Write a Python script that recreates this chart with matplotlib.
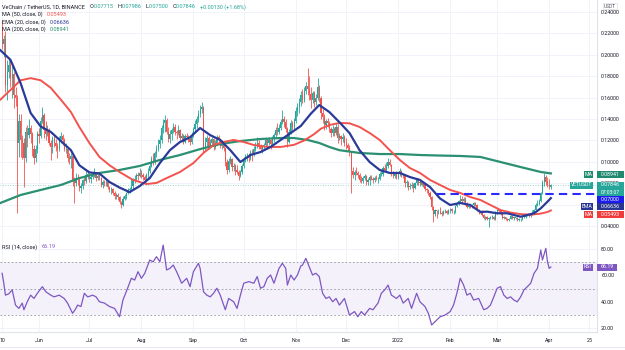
import numpy as np
import matplotlib.pyplot as plt
from matplotlib.patches import Rectangle

plt.rcParams['font.family'] = ['Roboto', 'DejaVu Sans']

# VET/USDT daily candles, 10 May 2021 .. 2 Apr 2022
first_open = 0.222
may_c = [0.210, 0.214, 0.172, 0.184, 0.190, 0.178, 0.182, 0.162, 0.160, 0.118, 0.138, 0.120, 0.118, 0.104, 0.128, 0.125, 0.132, 0.126, 0.112, 0.104, 0.112, 0.126]
may_h = [0.232, 0.218, 0.222, 0.195, 0.198, 0.195, 0.192, 0.184, 0.170, 0.162, 0.145, 0.145, 0.125, 0.122, 0.133, 0.134, 0.140, 0.134, 0.128, 0.116, 0.116, 0.129]
may_l = [0.205, 0.198, 0.165, 0.158, 0.178, 0.170, 0.160, 0.150, 0.152, 0.053, 0.105, 0.105, 0.103, 0.077, 0.100, 0.114, 0.122, 0.118, 0.106, 0.098, 0.100, 0.108]
jun_c = [0.124, 0.138, 0.144, 0.130, 0.126, 0.130, 0.118, 0.114, 0.122, 0.118, 0.115, 0.112, 0.121, 0.124, 0.120, 0.112, 0.112, 0.104, 0.103, 0.106, 0.082, 0.080, 0.085, 0.083, 0.076, 0.078, 0.083, 0.082, 0.088, 0.089]
jun_h = [0.132, 0.142, 0.151, 0.146, 0.138, 0.134, 0.132, 0.120, 0.124, 0.126, 0.121, 0.118, 0.124, 0.128, 0.126, 0.122, 0.118, 0.114, 0.108, 0.108, 0.106, 0.086, 0.090, 0.089, 0.086, 0.080, 0.084, 0.087, 0.092, 0.093]
jun_l = [0.118, 0.122, 0.136, 0.122, 0.120, 0.124, 0.116, 0.102, 0.108, 0.114, 0.110, 0.104, 0.110, 0.118, 0.116, 0.110, 0.108, 0.100, 0.098, 0.094, 0.078, 0.062, 0.078, 0.079, 0.073, 0.071, 0.075, 0.079, 0.080, 0.084]
jul_c = [0.084, 0.086, 0.089, 0.090, 0.085, 0.087, 0.085, 0.079, 0.081, 0.080, 0.081, 0.077, 0.074, 0.075, 0.071, 0.068, 0.069, 0.067, 0.063, 0.060, 0.066, 0.068, 0.071, 0.074, 0.075, 0.078, 0.083, 0.084, 0.088, 0.087, 0.090]
jul_h = [0.090, 0.088, 0.091, 0.094, 0.091, 0.089, 0.089, 0.086, 0.083, 0.083, 0.083, 0.082, 0.078, 0.077, 0.076, 0.073, 0.071, 0.071, 0.068, 0.064, 0.068, 0.070, 0.072, 0.076, 0.077, 0.085, 0.085, 0.088, 0.090, 0.091, 0.094]
jul_l = [0.081, 0.080, 0.084, 0.086, 0.082, 0.083, 0.083, 0.077, 0.076, 0.078, 0.078, 0.075, 0.072, 0.070, 0.069, 0.066, 0.066, 0.065, 0.061, 0.057, 0.059, 0.065, 0.066, 0.070, 0.071, 0.074, 0.075, 0.080, 0.082, 0.083, 0.086]
aug_c = [0.088, 0.086, 0.083, 0.088, 0.092, 0.096, 0.103, 0.100, 0.108, 0.112, 0.117, 0.120, 0.132, 0.136, 0.139, 0.128, 0.121, 0.126, 0.130, 0.133, 0.128, 0.127, 0.130, 0.122, 0.124, 0.119, 0.124, 0.123, 0.121, 0.119, 0.125]
aug_h = [0.093, 0.090, 0.088, 0.090, 0.094, 0.099, 0.106, 0.108, 0.110, 0.116, 0.121, 0.125, 0.134, 0.140, 0.144, 0.141, 0.133, 0.130, 0.132, 0.136, 0.135, 0.130, 0.134, 0.131, 0.127, 0.126, 0.126, 0.127, 0.125, 0.124, 0.128]
aug_l = [0.085, 0.083, 0.080, 0.081, 0.085, 0.090, 0.095, 0.097, 0.098, 0.105, 0.110, 0.113, 0.118, 0.127, 0.128, 0.126, 0.119, 0.118, 0.120, 0.127, 0.125, 0.121, 0.125, 0.120, 0.119, 0.117, 0.118, 0.121, 0.119, 0.116, 0.117]
sep_c = [0.131, 0.135, 0.140, 0.145, 0.149, 0.151, 0.114, 0.119, 0.122, 0.115, 0.118, 0.121, 0.114, 0.118, 0.123, 0.120, 0.115, 0.117, 0.113, 0.100, 0.093, 0.101, 0.103, 0.095, 0.096, 0.093, 0.091, 0.087, 0.091, 0.096]
sep_h = [0.133, 0.139, 0.143, 0.148, 0.153, 0.156, 0.152, 0.123, 0.125, 0.124, 0.121, 0.123, 0.122, 0.120, 0.125, 0.125, 0.122, 0.120, 0.118, 0.114, 0.103, 0.104, 0.106, 0.104, 0.099, 0.098, 0.097, 0.093, 0.093, 0.098]
sep_l = [0.123, 0.129, 0.132, 0.137, 0.142, 0.146, 0.108, 0.110, 0.115, 0.112, 0.113, 0.115, 0.111, 0.112, 0.116, 0.118, 0.113, 0.112, 0.110, 0.096, 0.089, 0.091, 0.098, 0.092, 0.092, 0.088, 0.089, 0.083, 0.086, 0.089]
oct_c = [0.103, 0.104, 0.106, 0.104, 0.109, 0.108, 0.112, 0.114, 0.118, 0.114, 0.112, 0.114, 0.116, 0.120, 0.118, 0.120, 0.117, 0.121, 0.125, 0.130, 0.128, 0.132, 0.137, 0.140, 0.137, 0.131, 0.119, 0.128, 0.136, 0.133, 0.138]
oct_h = [0.105, 0.107, 0.108, 0.108, 0.111, 0.112, 0.115, 0.119, 0.123, 0.120, 0.117, 0.116, 0.118, 0.122, 0.122, 0.123, 0.121, 0.124, 0.127, 0.133, 0.136, 0.135, 0.140, 0.148, 0.143, 0.140, 0.133, 0.131, 0.139, 0.138, 0.141]
oct_l = [0.094, 0.100, 0.101, 0.100, 0.102, 0.101, 0.106, 0.110, 0.113, 0.112, 0.110, 0.108, 0.111, 0.115, 0.114, 0.116, 0.112, 0.115, 0.119, 0.123, 0.125, 0.126, 0.130, 0.135, 0.133, 0.128, 0.114, 0.118, 0.126, 0.130, 0.130]
nov_c = [0.147, 0.151, 0.156, 0.162, 0.158, 0.166, 0.171, 0.168, 0.163, 0.158, 0.164, 0.156, 0.160, 0.170, 0.160, 0.146, 0.142, 0.134, 0.138, 0.136, 0.131, 0.127, 0.131, 0.127, 0.133, 0.122, 0.124, 0.121, 0.123, 0.118]
nov_h = [0.151, 0.155, 0.160, 0.166, 0.168, 0.170, 0.174, 0.187, 0.180, 0.170, 0.166, 0.166, 0.163, 0.178, 0.172, 0.161, 0.149, 0.145, 0.140, 0.141, 0.138, 0.133, 0.134, 0.133, 0.136, 0.135, 0.127, 0.125, 0.127, 0.125]
nov_l = [0.136, 0.143, 0.146, 0.152, 0.155, 0.156, 0.163, 0.162, 0.158, 0.150, 0.155, 0.151, 0.153, 0.158, 0.156, 0.140, 0.136, 0.130, 0.131, 0.133, 0.128, 0.123, 0.124, 0.124, 0.125, 0.118, 0.120, 0.116, 0.119, 0.115]
dec_c = [0.116, 0.113, 0.109, 0.092, 0.088, 0.091, 0.090, 0.088, 0.083, 0.082, 0.085, 0.087, 0.081, 0.083, 0.086, 0.084, 0.083, 0.085, 0.084, 0.084, 0.089, 0.089, 0.094, 0.093, 0.096, 0.100, 0.097, 0.089, 0.087, 0.089, 0.086]
dec_h = [0.122, 0.118, 0.116, 0.110, 0.095, 0.093, 0.095, 0.092, 0.090, 0.087, 0.087, 0.089, 0.088, 0.085, 0.088, 0.088, 0.086, 0.087, 0.088, 0.086, 0.091, 0.093, 0.096, 0.098, 0.100, 0.104, 0.103, 0.098, 0.092, 0.091, 0.092]
dec_l = [0.112, 0.110, 0.106, 0.071, 0.085, 0.083, 0.088, 0.085, 0.081, 0.080, 0.080, 0.083, 0.079, 0.079, 0.079, 0.083, 0.080, 0.081, 0.083, 0.080, 0.083, 0.087, 0.087, 0.091, 0.092, 0.094, 0.096, 0.087, 0.085, 0.085, 0.084]
jan_c = [0.089, 0.092, 0.088, 0.087, 0.080, 0.081, 0.077, 0.078, 0.079, 0.076, 0.080, 0.083, 0.080, 0.081, 0.079, 0.080, 0.075, 0.074, 0.071, 0.067, 0.058, 0.052, 0.055, 0.054, 0.054, 0.053, 0.052, 0.054, 0.054, 0.053, 0.055]
jan_h = [0.090, 0.094, 0.093, 0.090, 0.089, 0.083, 0.082, 0.080, 0.081, 0.080, 0.081, 0.085, 0.085, 0.083, 0.082, 0.081, 0.080, 0.076, 0.075, 0.073, 0.068, 0.059, 0.056, 0.055, 0.056, 0.058, 0.054, 0.055, 0.056, 0.055, 0.056]
jan_l = [0.084, 0.087, 0.086, 0.085, 0.077, 0.077, 0.074, 0.075, 0.076, 0.072, 0.075, 0.079, 0.079, 0.078, 0.078, 0.077, 0.073, 0.071, 0.069, 0.066, 0.055, 0.044, 0.050, 0.048, 0.052, 0.052, 0.050, 0.051, 0.053, 0.052, 0.052]
feb_c = [0.056, 0.054, 0.054, 0.059, 0.061, 0.064, 0.066, 0.064, 0.066, 0.061, 0.058, 0.059, 0.058, 0.060, 0.062, 0.060, 0.055, 0.054, 0.054, 0.051, 0.048, 0.049, 0.047, 0.048, 0.049, 0.049, 0.047, 0.053]
feb_h = [0.057, 0.057, 0.055, 0.060, 0.063, 0.065, 0.069, 0.068, 0.067, 0.067, 0.063, 0.060, 0.060, 0.061, 0.063, 0.063, 0.061, 0.056, 0.055, 0.055, 0.052, 0.050, 0.050, 0.049, 0.050, 0.051, 0.050, 0.054]
feb_l = [0.053, 0.053, 0.052, 0.053, 0.058, 0.060, 0.063, 0.061, 0.063, 0.060, 0.057, 0.057, 0.057, 0.057, 0.059, 0.059, 0.054, 0.052, 0.053, 0.050, 0.047, 0.046, 0.046, 0.0395, 0.047, 0.047, 0.046, 0.046]
mar_c = [0.055, 0.054, 0.052, 0.048, 0.049, 0.047, 0.046, 0.047, 0.050, 0.048, 0.048, 0.048, 0.046, 0.047, 0.047, 0.049, 0.049, 0.050, 0.051, 0.050, 0.051, 0.053, 0.055, 0.060, 0.061, 0.064, 0.071, 0.081, 0.086, 0.081, 0.079]
mar_h = [0.056, 0.056, 0.055, 0.052, 0.050, 0.049, 0.048, 0.048, 0.051, 0.050, 0.049, 0.049, 0.049, 0.048, 0.048, 0.050, 0.050, 0.051, 0.052, 0.052, 0.052, 0.055, 0.056, 0.062, 0.065, 0.066, 0.072, 0.083, 0.090, 0.088, 0.086]
mar_l = [0.052, 0.053, 0.051, 0.047, 0.047, 0.046, 0.045, 0.045, 0.047, 0.047, 0.046, 0.047, 0.045, 0.045, 0.045, 0.046, 0.048, 0.048, 0.050, 0.049, 0.049, 0.051, 0.052, 0.055, 0.059, 0.060, 0.063, 0.070, 0.078, 0.079, 0.077]
apr_c = [0.07715, 0.07846]
apr_h = [0.084, 0.07986]
apr_l = [0.075, 0.07500]

# indicator lines (day index from 10 May 2021, value)
ma50_day = [-1, 11, 17, 23, 29, 35, 41, 46, 52, 58, 64, 70, 78, 86, 92, 98, 106, 114, 120, 126,
            132, 138, 144, 150, 158, 166, 174, 180, 186, 190, 195, 201, 207, 213, 219, 225, 231, 237, 243, 249,
            255, 261, 267, 273, 279, 285, 291, 297, 303, 309, 315, 321, 325, 327]
ma50_val = [0.158, 0.176, 0.178, 0.176, 0.169, 0.158, 0.1465, 0.1326, 0.1177, 0.1047, 0.097, 0.0907, 0.0833, 0.0795, 0.0805, 0.085, 0.0907, 0.099, 0.1084, 0.1158,
            0.1186, 0.1205, 0.1186, 0.1158, 0.114, 0.114, 0.116, 0.120, 0.126, 0.131, 0.1344, 0.1363, 0.136, 0.1326, 0.127, 0.1205, 0.111, 0.1019, 0.0944, 0.0898,
            0.0833, 0.0786, 0.074, 0.0712, 0.0674, 0.0647, 0.060, 0.0553, 0.053, 0.0515, 0.051, 0.052, 0.0535, 0.0549]
ema_day = [-1, 5, 11, 17, 23, 29, 35, 41, 46, 52, 58, 64, 70, 76, 82, 88, 94, 100, 106, 112,
           118, 124, 130, 136, 142, 148, 154, 160, 166, 172, 178, 184, 189, 195, 201, 207, 213, 219, 225, 231,
           237, 243, 249, 255, 261, 267, 273, 279, 285, 289, 295, 301, 309, 317, 321, 325, 327]
ema_val = [0.204, 0.195, 0.1735, 0.1456, 0.133, 0.128, 0.1195, 0.111, 0.097, 0.0903, 0.0893, 0.0814, 0.0762, 0.072, 0.0776, 0.085, 0.099, 0.111, 0.1186, 0.123,
           0.1316, 0.125, 0.1205, 0.111, 0.100, 0.1065, 0.1093, 0.114, 0.1205, 0.127, 0.1335, 0.145, 0.153, 0.1465, 0.137, 0.127, 0.111, 0.100, 0.0926, 0.0898,
           0.0898, 0.086, 0.0833, 0.0767, 0.066, 0.060, 0.0619, 0.060, 0.0535, 0.0538, 0.0523, 0.0523, 0.0491, 0.0523, 0.0569, 0.0631, 0.0664]
ma200_day = [-1, 11, 23, 35, 46, 58, 70, 82, 94, 106, 118, 130, 142, 154, 166, 174, 182, 189, 195, 201,
             213, 225, 237, 249, 261, 273, 285, 297, 309, 321, 327]
ma200_val = [0.0619, 0.0693, 0.074, 0.0786, 0.085, 0.0898, 0.0926, 0.0963, 0.1019, 0.1065, 0.112, 0.1167, 0.1195, 0.1214, 0.1223, 0.1223, 0.1205, 0.1177, 0.114, 0.111,
             0.1084, 0.1074, 0.1074, 0.1065, 0.106, 0.1056, 0.1047, 0.100, 0.0953, 0.0907, 0.0894]

rsi_day = [0, 1, 2, 4, 6, 8, 10, 12, 13, 15, 17, 19, 21, 24, 26, 29, 31, 34, 37, 39,
           42, 44, 45, 47, 49, 51, 54, 56, 58, 61, 64, 67, 70, 72, 74, 77, 79, 81, 83, 85,
           88, 90, 92, 94, 96, 98, 100, 102, 104, 107, 110, 112, 114, 117, 118, 120, 122, 124, 126, 128,
           130, 133, 135, 138, 140, 142, 144, 147, 150, 152, 154, 156, 158, 160, 162, 165, 167, 169, 170, 172,
           174, 176, 178, 179, 181, 183, 185, 187, 189, 191, 193, 195, 197, 199, 201, 204, 207, 210, 212, 214,
           216, 219, 221, 224, 226, 228, 230, 232, 235, 237, 239, 242, 244, 247, 249, 252, 254, 256, 258, 261,
           264, 267, 269, 271, 273, 275, 277, 279, 281, 284, 287, 289, 291, 293, 295, 297, 299, 301, 303, 305,
           307, 309, 311, 313, 315, 317, 319, 321, 322, 324, 325, 326, 327]
rsi_val = [61.5, 54, 45, 46, 49, 37.5, 35, 39, 34, 40, 45, 42.5, 46.4, 51.4, 47.6, 45, 43.7, 45, 42.5, 39,
           31.3, 35, 37.5, 36.4, 46.4, 43.7, 45, 43.7, 40, 39, 36.4, 35, 28.7, 41.3, 47.6, 57.7, 56.4, 62.7, 57.7, 61.5,
           71.5, 70.2, 74, 70.2, 82.8, 64, 65.2, 67.7, 62.7, 54, 57.7, 51.4, 62.7, 69, 65.2, 47.6, 45, 43.7, 46.4, 50.2,
           45, 34, 42.5, 40, 35, 45, 54, 55.2, 54, 59, 50.2, 51.4, 57.7, 60.2, 54, 65.2, 69, 65.2, 52.6, 60.2,
           56.4, 60.2, 67, 67.7, 72.8, 66.5, 60.2, 61.5, 59, 46.4, 42.5, 43.7, 40, 42.5, 37.5, 42.5, 30, 32.6, 28.7, 32.6,
           30, 35, 34, 39, 46.4, 49, 52.6, 45, 42.5, 45, 39, 42.5, 35, 46.4, 40, 36.4, 31.3, 22.5, 25, 28.7,
           30, 32.6, 37.5, 46.4, 57.7, 52.6, 45, 46.4, 41.3, 42.5, 34, 35, 37.5, 43.7, 50.2, 51.4, 45, 42.5, 43.7, 41.3,
           40, 43.7, 49, 51.4, 54, 61.5, 65.2, 79, 71.5, 80.3, 70.2, 65.2, 66.19]

support_level = 0.07
support_start = 259
last_price = 0.07846

tick_days = [0, 22, 52, 83, 114, 144, 175, 205, 236, 267, 295, 326, 350]
tick_labels = ['10', 'Jun', 'Jul', 'Aug', 'Sep', 'Oct', 'Nov', 'Dec', '2022', 'Feb', 'Mar', 'Apr', '25']
price_ticks = [0.04, 0.06, 0.08, 0.10, 0.12, 0.14, 0.16, 0.18, 0.20, 0.22, 0.24]
rsi_ticks = [20, 40, 60, 80]

close = np.array(may_c + jun_c + jul_c + aug_c + sep_c + oct_c + nov_c + dec_c + jan_c + feb_c + mar_c + apr_c)
high = np.array(may_h + jun_h + jul_h + aug_h + sep_h + oct_h + nov_h + dec_h + jan_h + feb_h + mar_h + apr_h)
low = np.array(may_l + jun_l + jul_l + aug_l + sep_l + oct_l + nov_l + dec_l + jan_l + feb_l + mar_l + apr_l)
opens = np.r_[first_open, close[:-1]]
high = np.maximum(high, np.maximum(opens, close))
low = np.minimum(low, np.minimum(opens, close))
days = np.arange(len(close))

UP, DOWN = '#26a69a', '#ef5350'
TXT = '#131722'
GRID = '#f0f3fa'
W, H = 625, 350

def fy(py):
    return 1 - py / H

fig = plt.figure(figsize=(6.25, 3.5), dpi=100)
ax = fig.add_axes([0, fy(240), 597 / W, 240 / H])
rax = fig.add_axes([0, fy(332), 597 / W, 92 / H], sharex=ax)

# candles
col = np.where(close >= opens, UP, DOWN)
ax.vlines(days, low, high, colors=col, linewidth=0.6, zorder=2)
body = np.maximum(np.abs(close - opens), 0.0004)
ax.bar(days, body, bottom=np.minimum(opens, close), width=0.7, color=col, linewidth=0, zorder=2)

ax.plot(ma200_day, ma200_val, color='#2b8f72', lw=1.6, zorder=3)
ax.plot(ma50_day, ma50_val, color='#f4524d', lw=1.4, zorder=3)
ax.plot(ema_day, ema_val, color='#2a3a98', lw=1.6, zorder=4)
ax.hlines(support_level, support_start, 356, colors='#2a2aff', lw=1.5, linestyles=(0, (4, 2.5)), zorder=4)
ax.axhline(last_price, color=UP, lw=0.6, ls=(0, (1, 2)), alpha=0.6, zorder=1)

ax.set_xlim(-1.25, 354.5)
ax.set_ylim(0.02744, 0.2507)
ax.set_yticks(price_ticks)
ax.set_yticklabels(['%.5f' % v for v in price_ticks])
ax.yaxis.tick_right()
ax.set_xticks(tick_days)
ax.grid(True, color=GRID, lw=0.7)
ax.tick_params(axis='x', labelbottom=False, length=0)
ax.tick_params(axis='y', length=0, labelsize=3.8, labelcolor=TXT, pad=3)
for s in ['top', 'left']:
    ax.spines[s].set_visible(False)
ax.spines['right'].set_color('#e0e3eb')
ax.spines['bottom'].set_color('#e0e3eb')

# RSI pane
rax.axhspan(30, 70, color='#7e57c2', alpha=0.08, lw=0)
for lv in (70, 50, 30):
    rax.axhline(lv, color='#9598a1', lw=0.6, ls=(0, (2, 2.5)))
rax.plot(rsi_day, rsi_val, color='#7e57c2', lw=0.9, zorder=3)
rax.set_ylim(17.2, 86.6)
rax.set_yticks(rsi_ticks)
rax.set_yticklabels(['%.2f' % v for v in rsi_ticks])
rax.yaxis.tick_right()
rax.set_xticks(tick_days)
rax.set_xticklabels(tick_labels)
rax.grid(True, color=GRID, lw=0.7)
rax.tick_params(axis='both', length=0, labelsize=3.8, labelcolor=TXT)
rax.tick_params(axis='x', pad=4)
rax.tick_params(axis='y', pad=3)
for s in ['top', 'left']:
    rax.spines[s].set_visible(False)
rax.spines['right'].set_color('#e0e3eb')
rax.spines['bottom'].set_color('#e0e3eb')

fig.add_artist(plt.Line2D([0, 1], [fy(347), fy(347)], color='#e0e3eb', lw=0.6))

# legend text runs
renderer = fig.canvas.get_renderer()

def run(x, y, parts, size=4.0):
    for s, c, gap in parts:
        t = fig.text(x / W, fy(y), s, color=c, fontsize=size, va='center', ha='left', zorder=6)
        x += t.get_window_extent(renderer).width + gap

run(2, 7, [('VeChain / TetherUS, 1D, BINANCE', TXT, 5), ('O', TXT, 0), ('0.07715', UP, 4),
           ('H', TXT, 0), ('0.07986', UP, 4), ('L', TXT, 0), ('0.07500', UP, 4),
           ('C', TXT, 0), ('0.07846', UP, 4), ('+0.00130 (+1.68%)', UP, 0)])
run(2, 14.5, [('MA (50, close, 0)', TXT, 4), ('0.05493', '#f4524d', 0)])
run(2, 22, [('EMA (20, close, 0)', TXT, 4), ('0.06636', '#2a3a98', 0)])
run(2, 29.5, [('MA (200, close, 0)', TXT, 4), ('0.08941', '#2b8f72', 0)])
run(2, 247, [('RSI (14, close)', TXT, 4), ('66.19', '#7e57c2', 0)])

# price scale tags
def box(x0, x1, y0, y1, color):
    fig.add_artist(Rectangle((x0 / W, fy(y1)), (x1 - x0) / W, (y1 - y0) / H,
                             transform=fig.transFigure, fc=color, ec='none', zorder=5))

def tag(y, label, value, color, lab_x0, h=7, val_x1=624):
    box(597, val_x1, y - h / 2, y + h / 2, color)
    fig.text((597 + val_x1) / 2 / W, fy(y), value, color='white', fontsize=3.8,
             ha='center', va='center', zorder=6)
    if label:
        box(lab_x0, 593, y - h / 2, y + h / 2, color)
        fig.text((lab_x0 + 593) / 2 / W, fy(y), label, color='white', fontsize=3.8,
                 ha='center', va='center', zorder=6)

tag(174, 'MA', '0.08941', '#1f8a70', 584)
box(570, 593, 181.5, 188.5, UP)
fig.text(581.5 / W, fy(185), 'VETUSDT', color='white', fontsize=3.6, ha='center', va='center', zorder=6)
box(597, 624, 181.5, 196, UP)
fig.text(610.5 / W, fy(185), '0.07846', color='white', fontsize=3.8, ha='center', va='center', zorder=6)
fig.text(610.5 / W, fy(192.3), '07:03:07', color='white', fontsize=3.6, ha='center', va='center', zorder=6)
tag(199.5, None, '0.07000', '#1c1cf0', 0)
tag(206.8, 'EMA', '0.06636', '#283593', 581)
tag(214, 'MA', '0.05493', '#f23a3a', 584)
tag(267, 'RSI', '66.19', '#7e57c2', 583, val_x1=617)

# currency label
fig.text(610 / W, fy(6), 'USDT', color='#50535e', fontsize=3.4, ha='center', va='center', zorder=6,
         bbox=dict(boxstyle='square,pad=0.2', fc='white', ec='#d1d4dc', lw=0.4))

fig.savefig('out.png', dpi=100)
